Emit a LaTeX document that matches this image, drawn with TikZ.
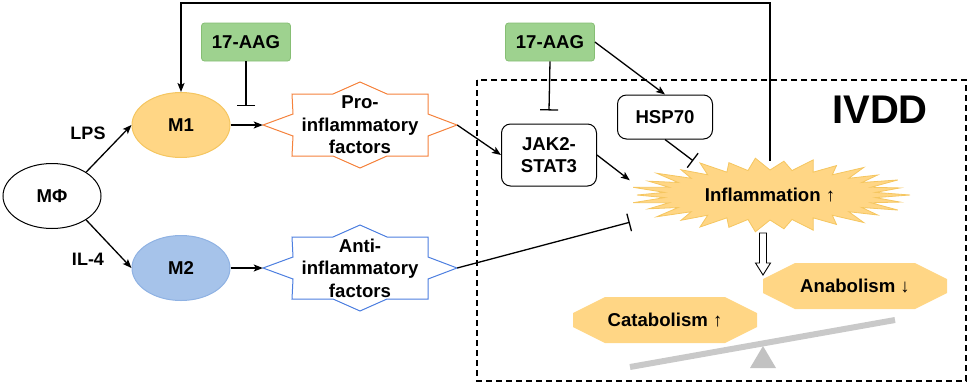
\documentclass[tikz,border=0pt]{standalone}
\usepackage{fontspec}
\setmainfont{Liberation Sans}
\usetikzlibrary{arrows.meta,shapes.geometric,calc}
\definecolor{orfill}{HTML}{FFD685}
\definecolor{orline}{HTML}{F5C660}
\definecolor{blfill}{HTML}{A6C3EA}
\definecolor{blline}{HTML}{8FB2E3}
\definecolor{grfill}{HTML}{9ED28F}
\definecolor{grline}{HTML}{86BE74}
\definecolor{prostroke}{HTML}{F5823C}
\definecolor{antistroke}{HTML}{4D7FE0}
\definecolor{beamgray}{HTML}{C9C9C9}
\definecolor{fulcgray}{HTML}{C2C2C2}
\begin{document}
\begin{tikzpicture}[x=1pt,y=-1pt,
  every node/.style={font=\fontsize{18.6}{22.5}\selectfont\bfseries, inner sep=0pt},
  ell/.style={ellipse, draw, line width=1pt, minimum width=98pt, minimum height=65pt},
  drug/.style={rectangle, rounded corners=3pt, draw=grline, fill=grfill, line width=0.8pt, minimum width=89pt, minimum height=38pt},
  molbox/.style={rectangle, rounded corners=9pt, draw, line width=1pt, fill=white, minimum width=95pt},
  conn/.style={line width=1.3pt, -{Stealth[length=9pt,width=7pt,inset=2pt]}},
  inhib/.style={line width=1.3pt, -{Bar[width=18pt,line width=1.3pt]}},
  octfill/.style={fill=orfill},
  lbl/.style={font=\fontsize{18}{22}\selectfont\bfseries}
]
\useasboundingbox (0,0) rectangle (969,384);

% IVDD dashed region
\draw[line width=1.2pt, dash pattern=on 6pt off 4pt] (477,80) rectangle (966,381);

% star outlines
\coordinate (proc) at (360,125);
\coordinate (antic) at (360,268);
\draw[prostroke, line width=1pt, fill=white] (proc) ++(-97,0) -- ++(30,-11) -- ++(-1,-20) -- ++(41,0) -- ++(27,-12) -- ++(27,12) -- ++(41,0) -- ++(0,20) -- ++(29,11) -- ++(-29,11) -- ++(0,20) -- ++(-41,0) -- ++(-27,12) -- ++(-27,-12) -- ++(-41,0) -- ++(1,-20) -- cycle;
\draw[antistroke, line width=1pt, fill=white] (antic) ++(-97,0) -- ++(30,-11) -- ++(-1,-20) -- ++(41,0) -- ++(27,-12) -- ++(27,12) -- ++(41,0) -- ++(0,20) -- ++(29,11) -- ++(-29,11) -- ++(0,20) -- ++(-41,0) -- ++(-27,12) -- ++(-27,-12) -- ++(-41,0) -- ++(1,-20) -- cycle;

% inflammation burst
\coordinate (inflc) at (770,195);
\draw[orline, fill=orfill, line width=0.8pt, shift={(inflc)}] plot[samples at={0,...,59}, variable=\k]
  ({cos(\k*6)*(mod(\k,2)==0 ? (mod(\k,4)==0 ? 140 : 133) : 106)},
   {sin(\k*6)*(mod(\k,2)==0 ? (mod(\k,4)==0 ? 37 : 34) : 25)}) -- cycle;

% octagons
\coordinate (anac) at (855,286);
\coordinate (catac) at (665,320);
\fill[octfill] (anac) ++(-92,-7) -- ++(32,-16) -- ++(120,0) -- ++(32,16) -- ++(0,14) -- ++(-32,16) -- ++(-120,0) -- ++(-32,-16) -- cycle;
\fill[octfill] (catac) ++(-92,-7) -- ++(32,-16) -- ++(120,0) -- ++(32,16) -- ++(0,14) -- ++(-32,16) -- ++(-120,0) -- ++(-32,-16) -- cycle;

% seesaw
\coordinate (beamL) at (630,367);
\coordinate (beamR) at (895,320);
\coordinate (fulc) at (763,346);
\draw[beamgray, line width=6pt] (beamL) -- (beamR);
\fill[fulcgray] (fulc) -- ++(-13,22) -- ++(26,0) -- cycle;

% hollow arrow
\coordinate (darr) at (763,233);
\draw[line width=0.9pt, fill=white] (darr) ++(-3.5,0) -- ++(0,30) -- ++(-4,0) -- ++(7.5,12) -- ++(7.5,-12) -- ++(-4,0) -- ++(0,-30) -- cycle;

% nodes
\node[ell, fill=white] (mphi) at (52,196) {MΦ};
\node[ell, fill=orfill, draw=orline] (m1) at (181,125) {M1};
\node[ell, fill=blfill, draw=blline] (m2) at (181,268) {M2};
\node[lbl] (lps) at (88,133) {LPS};
\node[lbl] (il4) at (88,259) {IL-4};
\node[drug] (aag1) at (246,42) {17-AAG};
\node[drug] (aag2) at (550,42) {17-AAG};
\node[minimum width=194pt, minimum height=86pt, align=center] (pro) at (proc) {Pro-\\inflammatory\\factors};
\node[minimum width=194pt, minimum height=86pt, align=center] (anti) at (antic) {Anti-\\inflammatory\\factors};
\node[molbox, minimum height=62pt, align=center] (jak) at (549,155) {JAK2-\\STAT3};
\node[molbox, minimum height=44pt] (hsp) at (665,117) {HSP70};
\node[minimum width=280pt, minimum height=68pt] (infl) at (inflc) {Inflammation {\mdseries ↑}};
\node (ana) at (anac) {Anabolism {\mdseries ↓}};
\node (cata) at (catac) {Catabolism {\mdseries ↑}};
\node[font=\fontsize{40}{48}\selectfont\bfseries] (ivdd) at (880,110) {IVDD};

% connectors
\coordinate (top) at (0,3);
\coordinate (inh1) at (246,106);
\draw[conn] (mphi.35) -- (m1.west);
\draw[conn] (mphi.-35) -- (m2.west);
\draw[conn] (m1.east) -- (pro.west);
\draw[conn] (m2.east) -- (anti.west);
\draw[inhib] (aag1.south) -- (inh1);
\draw[conn] (pro.east) -- (jak.west);
\draw[inhib] (aag2.south) -- ($(jak.north)+(0,-13)$);
\draw[conn] (aag2.east) -- (hsp.north);
\draw[conn] (jak.east) -- (infl.174);
\draw[inhib] (hsp.south) -- (infl.156);
\draw[inhib] (anti.east) -- (infl.191);
\draw[line width=1.3pt, -{Stealth[length=9pt,width=7pt,inset=2pt]}] (infl.north) -- (infl.north |- top) -| (m1.north);
\end{tikzpicture}
\end{document}
